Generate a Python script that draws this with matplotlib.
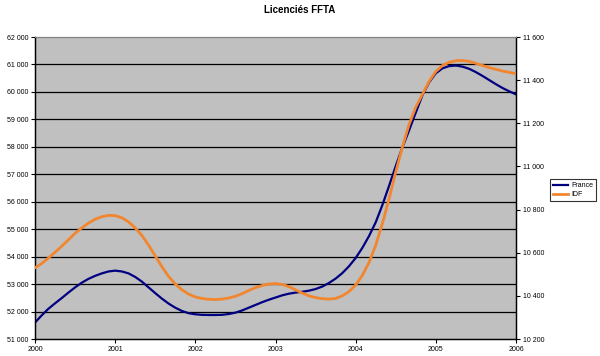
import matplotlib
matplotlib.use("Agg")
import matplotlib.pyplot as plt
import numpy as np
from matplotlib.ticker import FuncFormatter

plt.rcParams['font.family'] = ['Liberation Sans', 'DejaVu Sans']

# monthly samples, 2000-01 .. 2006-01 (month index)
months = list(range(73))
france = [51600, 51860, 52100, 52300, 52490, 52690, 52880, 53050, 53190, 53300,
          53390, 53460, 53490, 53460, 53390, 53260, 53090, 52880, 52670, 52470,
          52290, 52140, 52020, 51940, 51900, 51880, 51875, 51875, 51880, 51910,
          51960, 52040, 52140, 52240, 52340, 52430, 52510, 52590, 52650, 52690,
          52720, 52760, 52820, 52910, 53040, 53200, 53400, 53650, 53950, 54320,
          54750, 55250, 55880, 56580, 57300, 57980, 58600, 59250, 59880, 60350,
          60680, 60860, 60940, 60960, 60920, 60840, 60720, 60580, 60430, 60280,
          60140, 60020, 59910]
idf = [10530, 10550, 10575, 10602, 10630, 10660, 10690, 10715, 10737, 10755,
       10767, 10773, 10772, 10762, 10743, 10715, 10680, 10635, 10585, 10535,
       10490, 10455, 10428, 10408, 10395, 10388, 10384, 10383, 10385, 10390,
       10398, 10410, 10425, 10438, 10448, 10455, 10457, 10453, 10443, 10428,
       10413, 10400, 10392, 10387, 10385, 10388, 10400, 10420, 10450, 10495,
       10555, 10635, 10735, 10850, 10975, 11090, 11195, 11275, 11335, 11395,
       11440, 11468, 11483, 11490, 11491, 11487, 11478, 11468, 11458, 11450,
       11442, 11436, 11430]
years = [2000, 2001, 2002, 2003, 2004, 2005, 2006]
left_ticks = list(range(51000, 62001, 1000))
right_ticks = list(range(10200, 11601, 200))

t = 2000 + np.array(months) / 12.0

fig = plt.figure(figsize=(6.0, 3.56), dpi=100)
ax = fig.add_axes([35/600, 17/356, (516-35)/600, (339-37)/356])
ax.set_facecolor('#C0C0C0')
ax2 = ax.twinx()

for y in left_ticks[1:-1]:
    ax.axhline(y, color='black', lw=0.9, zorder=1)

ax.plot(t, france, color='#000080', lw=1.6, zorder=3, label='France')
ax2.plot(t, idf, color='#F2862F', lw=2.0, zorder=3, label='IDF')

ax.set_xlim(2000, 2006)
ax.set_ylim(51000, 62000)
ax2.set_ylim(10200, 11600)
ax.set_xticks(years)
ax.set_xticklabels([str(y) for y in years])
ax.set_yticks(left_ticks)
ax2.set_yticks(right_ticks)
fmt = FuncFormatter(lambda v, p: f"{int(v):,}".replace(",", " "))
ax.yaxis.set_major_formatter(fmt)
ax2.yaxis.set_major_formatter(fmt)

for a in (ax, ax2):
    a.tick_params(labelsize=5, length=3, width=0.8, direction='out', pad=2, colors='black')
    a.spines['top'].set_color('#808080')
    a.spines['top'].set_linewidth(0.8)
    for s in ('left', 'right', 'bottom'):
        a.spines[s].set_color('black')
        a.spines[s].set_linewidth(0.9)

fig.text(0.5, 1 - 10/356, 'Licenciés FFTA', ha='center', va='center',
         fontsize=7, fontweight='bold')

h1, l1 = ax.get_legend_handles_labels()
h2, l2 = ax2.get_legend_handles_labels()
leg = fig.legend(h1 + h2, l1 + l2, loc='center', bbox_to_anchor=(573/600, 1 - 190/356),
                 fontsize=5, frameon=True, fancybox=False, edgecolor='black',
                 handlelength=2.2, borderpad=0.4, labelspacing=0.3, handletextpad=0.4)
leg.get_frame().set_linewidth(0.8)

fig.savefig('out.png', dpi=100)
